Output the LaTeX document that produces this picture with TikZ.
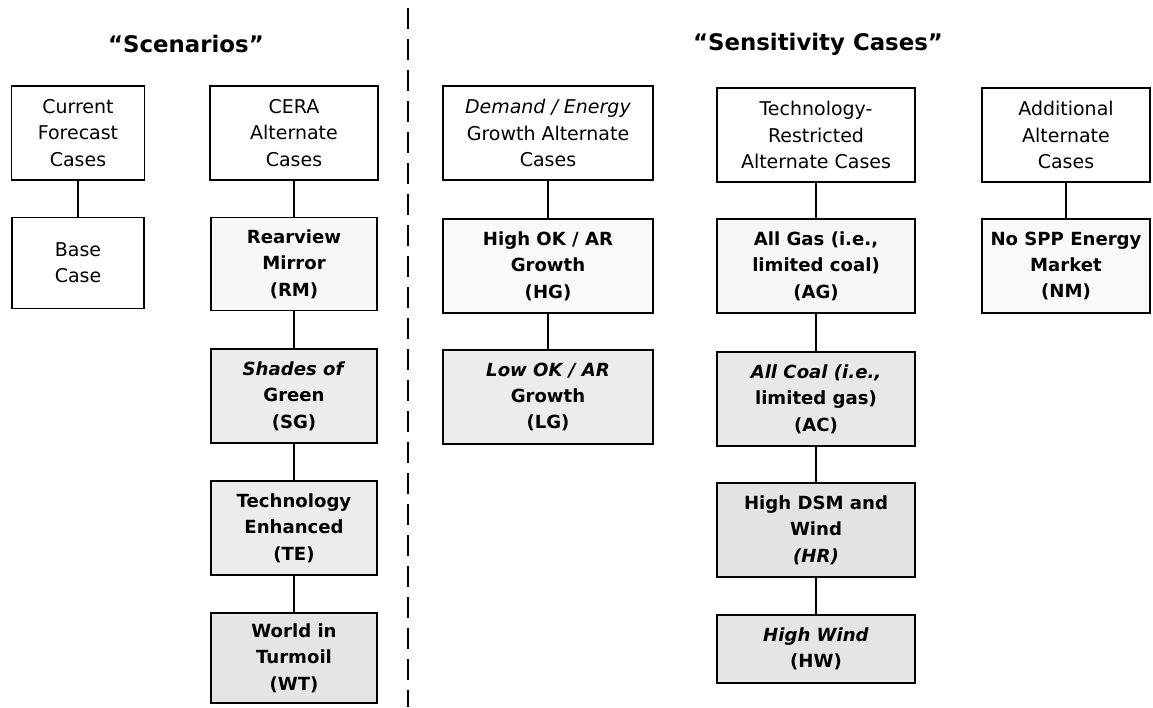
\documentclass[tikz,border=0pt]{standalone}
\usepackage{fontspec}
\setmainfont{DejaVu Sans}
\begin{document}
\begin{tikzpicture}[
    x=0.02cm, y=-0.02cm,
    box/.style={
        draw,
        line width=0.9pt,
        minimum height=1.88cm,
        inner xsep=1pt,
        align=center,
        font=\fontsize{10.8}{15}\selectfont
    },
    casebox/.style={
        box,
        font=\fontsize{10.3}{15}\selectfont\bfseries
    },
    title/.style={font=\fontsize{13}{16}\selectfont\bfseries},
    link/.style={line width=0.6pt},
    divider/.style={line width=1.6pt, dash pattern=on 0.42cm off 0.2cm}
]
    \useasboundingbox (0,0) rectangle (1153,707);

    % titles and divider
    \node[title] (scen) at (186,44) {“Scenarios”};
    \node[title] (sens) at (818,44) {“Sensitivity Cases”};
    \coordinate (divtop) at (408,8);
    \coordinate (divbot) at (408,707);
    \draw[divider] (divtop) -- (divbot);

    % scenarios
    \node[box, minimum width=2.66cm] (cfc) at (78,133) {Current\\Forecast\\Cases};
    \node[box, minimum width=2.64cm, minimum height=1.82cm] (base) at (78,263) {Base\\Case};

    \node[box, minimum width=3.36cm] (cera) at (294,133) {CERA\\Alternate\\Cases};
    \node[casebox, minimum width=3.32cm, minimum height=1.86cm, fill=gray!6] (rm) at (294,264) {Rearview\\Mirror\\(RM)};
    \node[casebox, minimum width=3.32cm, fill=gray!15] (sg) at (294,396) {\textit{Shades of}\\Green\\(SG)};
    \node[casebox, minimum width=3.32cm, fill=gray!15] (te) at (294,528) {Technology\\Enhanced\\(TE)};
    \node[casebox, minimum width=3.32cm, minimum height=1.80cm, fill=gray!20] (wt) at (294,658) {World in\\Turmoil\\(WT)};

    % sensitivity cases
    \node[box, minimum width=4.2cm] (dem) at (548,133) {\textit{Demand / Energy}\\Growth Alternate\\Cases};
    \node[casebox, minimum width=4.2cm, fill=gray!5] (hg) at (548,266) {High OK / AR\\Growth\\(HG)};
    \node[casebox, minimum width=4.2cm, fill=gray!15] (lg) at (548,397) {\textit{Low OK / AR}\\Growth\\(LG)};

    \node[box, minimum width=3.96cm] (tech) at (816,135) {Technology-\\Restricted\\Alternate Cases};
    \node[casebox, minimum width=3.96cm, fill=gray!6] (ag) at (816,266) {All Gas (i.e.,\\limited coal)\\(AG)};
    \node[casebox, minimum width=3.96cm, fill=gray!18] (ac) at (816,399) {\textit{All Coal (i.e.,}\\limited gas)\\(AC)};
    \node[casebox, minimum width=3.96cm, fill=gray!22] (hr) at (816,530) {High DSM and\\Wind\\\textit{(HR)}};
    \node[casebox, minimum width=3.96cm, minimum height=1.36cm, fill=gray!20] (hw) at (816,649) {\textit{High Wind}\\(HW)};

    \node[box, minimum width=3.36cm] (add) at (1066,135) {Additional\\Alternate\\Cases};
    \node[casebox, minimum width=3.36cm, fill=gray!5] (nm) at (1066,266) {No SPP Energy\\Market\\(NM)};

    % connectors
    \draw[link] (cfc) -- (base);
    \draw[link] (cera) -- (rm);
    \draw[link] (rm) -- (sg);
    \draw[link] (sg) -- (te);
    \draw[link] (te) -- (wt);
    \draw[link] (dem) -- (hg);
    \draw[link] (hg) -- (lg);
    \draw[link] (tech) -- (ag);
    \draw[link] (ag) -- (ac);
    \draw[link] (ac) -- (hr);
    \draw[link] (hr) -- (hw);
    \draw[link] (add) -- (nm);
\end{tikzpicture}
\end{document}
